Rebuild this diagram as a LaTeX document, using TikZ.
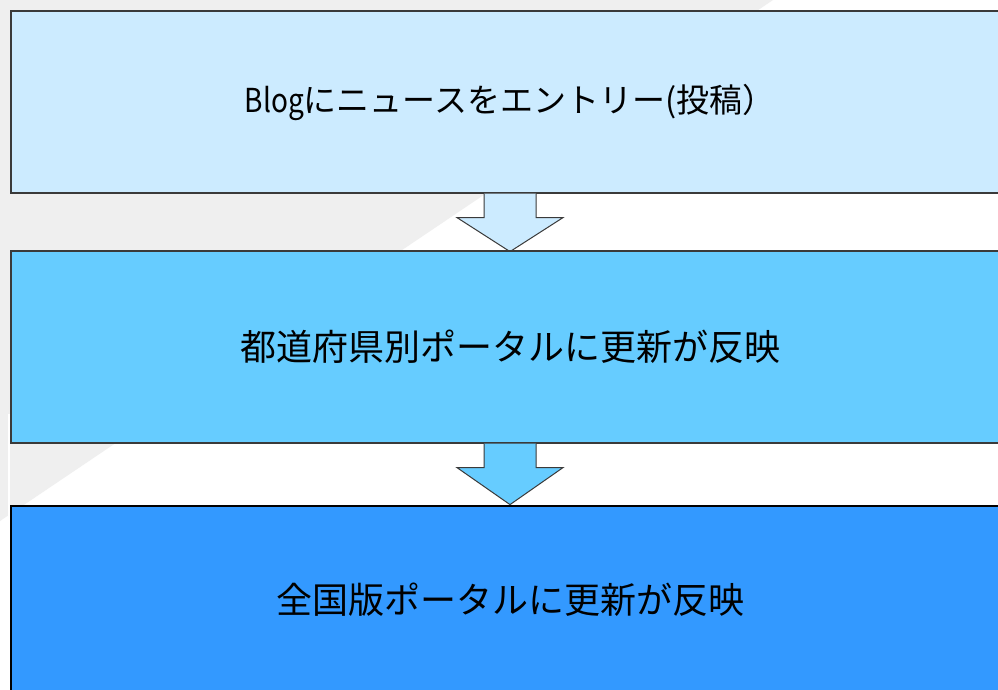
\documentclass[tikz,border=0pt]{standalone}
\usepackage{fontspec}
\newfontfamily\jp{Noto Sans CJK JP}
\usetikzlibrary{calc}
\definecolor{bggray}{HTML}{EFEFEF}
\definecolor{boxA}{HTML}{CCEBFF}
\definecolor{boxB}{HTML}{66CCFF}
\definecolor{boxC}{HTML}{3399FF}
\definecolor{edgegray}{HTML}{3A3A3A}
\tikzset{
  stagebox/.style={rectangle, minimum width=998pt, inner sep=0pt, font=\jp\fontsize{36}{40}\selectfont, text=black},
  lightedge/.style={draw=edgegray, line width=1.2pt},
  darkedge/.style={draw=black, line width=2pt},
  blockarrow/.style={draw=edgegray, line width=1pt, line join=miter},
}
\begin{document}
\begin{tikzpicture}[x=1pt, y=-1pt]
\useasboundingbox (0,0) rectangle (998,689);
\clip (0,0) rectangle (998,689);
\fill[white] (0,0) rectangle (998,689);
% background diagonal band
\fill[bggray] (0,0) -- (773,0) -- (0,521) -- cycle;
\fill[white] (8,414) rectangle (9.6,521);
% boxes
\node[stagebox, fill=boxA, lightedge, minimum height=182pt, font=\jp\fontsize{33}{38}\selectfont] (b1) at (510,102) {\scalebox{0.85}[1]{Blog}にニュースをエントリー(投稿）};
% arrow 1
\coordinate (s1) at (b1.south);
\fill[boxA] ($(s1)+(-26,0)$) -- ($(s1)+(-26,24)$) -- ($(s1)+(-53,24)$) -- ($(s1)+(0,58)$) -- ($(s1)+(53,24)$) -- ($(s1)+(26,24)$) -- ($(s1)+(26,0)$) -- cycle;
\draw[blockarrow] ($(s1)+(-26,0)$) -- ($(s1)+(-26,24)$) -- ($(s1)+(-53,24)$) -- ($(s1)+(0,58)$) -- ($(s1)+(53,24)$) -- ($(s1)+(26,24)$) -- ($(s1)+(26,0)$);
\node[stagebox, fill=boxB, lightedge, minimum height=192pt] (b2) at (510,347) {都道府県別ポータルに更新が反映};
% arrow 2
\coordinate (s2) at (b2.south);
\fill[boxB] ($(s2)+(-26,0)$) -- ($(s2)+(-26,24)$) -- ($(s2)+(-53,24)$) -- ($(s2)+(0,61)$) -- ($(s2)+(53,24)$) -- ($(s2)+(26,24)$) -- ($(s2)+(26,0)$) -- cycle;
\draw[blockarrow] ($(s2)+(-26,0)$) -- ($(s2)+(-26,24)$) -- ($(s2)+(-53,24)$) -- ($(s2)+(0,61)$) -- ($(s2)+(53,24)$) -- ($(s2)+(26,24)$) -- ($(s2)+(26,0)$);
\node[stagebox, fill=boxC, darkedge, minimum height=188pt] (b3) at (510,600) {全国版ポータルに更新が反映};
\end{tikzpicture}
\end{document}
